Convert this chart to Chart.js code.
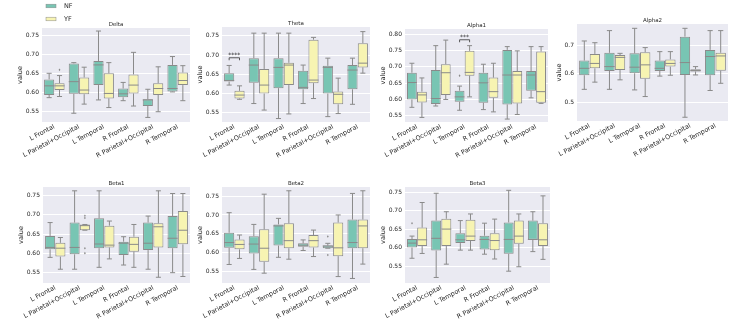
<!DOCTYPE html>
<html>
<head>
<meta charset="utf-8">
<title>Band power box plots</title>
<script src="https://cdn.jsdelivr.net/npm/chart.js@4.4.1/dist/chart.umd.min.js"></script>
<style>
  html, body { margin: 0; padding: 0; background: #fff; }
  body { position: relative; width: 733px; height: 327px; overflow: hidden; }
  canvas { position: absolute; }
</style>
</head>
<body>
<script>
// categories and groups
const regions = ['L Frontal', 'L Parietal+Occipital', 'L Temporal', 'R Frontal', 'R Parietal+Occipital', 'R Temporal'];
const groups = ['NF', 'YF'];

// tick labels
const ticks05 = [0.55, 0.60, 0.65, 0.70, 0.75];
const ticks05a = [0.55, 0.60, 0.65, 0.70, 0.75, 0.80];
const ticks10 = [0.5, 0.6, 0.7];

// each row: [lower whisker, Q1, median, Q3, upper whisker], one row per region
const deltaNF = [[0.587, 0.594, 0.618, 0.635, 0.651], [0.546, 0.597, 0.629, 0.677, 0.679], [0.581, 0.620, 0.673, 0.683, 0.762],
                 [0.579, 0.588, 0.597, 0.611, 0.627], [0.535, 0.565, 0.581, 0.583, 0.609], [0.602, 0.603, 0.611, 0.673, 0.695]];
const deltaYF = [[0.590, 0.607, 0.618, 0.625, 0.645], [0.570, 0.596, 0.607, 0.640, 0.667], [0.561, 0.585, 0.598, 0.651, 0.679],
                 [0.565, 0.598, 0.620, 0.648, 0.706], [0.550, 0.594, 0.611, 0.625, 0.668], [0.579, 0.620, 0.632, 0.653, 0.671]];
const thetaNF = [[0.622, 0.631, 0.634, 0.653, 0.673], [0.574, 0.628, 0.674, 0.692, 0.757], [0.535, 0.614, 0.668, 0.692, 0.757],
                 [0.574, 0.611, 0.616, 0.659, 0.674], [0.540, 0.600, 0.668, 0.672, 0.692], [0.572, 0.611, 0.661, 0.674, 0.692]];
const thetaYF = [[0.585, 0.587, 0.596, 0.607, 0.620], [0.557, 0.600, 0.622, 0.664, 0.757], [0.547, 0.622, 0.674, 0.680, 0.757],
                 [0.587, 0.627, 0.635, 0.740, 0.746], [0.548, 0.572, 0.598, 0.605, 0.640], [0.653, 0.668, 0.679, 0.731, 0.761]];
const alpha1NF = [[0.576, 0.600, 0.652, 0.682, 0.711], [0.580, 0.586, 0.603, 0.690, 0.765], [0.567, 0.593, 0.608, 0.627, 0.641],
                  [0.569, 0.590, 0.651, 0.682, 0.708], [0.540, 0.585, 0.675, 0.752, 0.762], [0.605, 0.627, 0.675, 0.687, 0.762]];
const alpha1YF = [[0.545, 0.591, 0.614, 0.624, 0.666], [0.600, 0.614, 0.682, 0.708, 0.782], [0.608, 0.673, 0.683, 0.749, 0.765],
                  [0.562, 0.605, 0.624, 0.667, 0.711], [0.554, 0.588, 0.675, 0.687, 0.749], [0.588, 0.590, 0.624, 0.747, 0.762]];
const alpha2NF = [[0.546, 0.595, 0.619, 0.646, 0.714], [0.546, 0.610, 0.625, 0.673, 0.750], [0.544, 0.602, 0.623, 0.671, 0.758],
                  [0.592, 0.610, 0.619, 0.646, 0.677], [0.449, 0.596, 0.639, 0.729, 0.758], [0.542, 0.595, 0.660, 0.683, 0.750]];
const alpha2YF = [[0.571, 0.619, 0.636, 0.669, 0.708], [0.579, 0.613, 0.657, 0.665, 0.671], [0.521, 0.583, 0.631, 0.675, 0.691],
                  [0.595, 0.625, 0.636, 0.650, 0.677], [0.596, 0.608, 0.611, 0.616, 0.625], [0.567, 0.611, 0.662, 0.673, 0.750]];
const beta1NF = [[0.589, 0.610, 0.615, 0.645, 0.680], [0.558, 0.597, 0.615, 0.680, 0.763], [0.563, 0.613, 0.624, 0.691, 0.763],
                 [0.569, 0.595, 0.626, 0.630, 0.643], [0.558, 0.608, 0.626, 0.680, 0.697], [0.549, 0.613, 0.639, 0.697, 0.756]];
const beta1YF = [[0.558, 0.591, 0.613, 0.627, 0.641], [0.660, 0.660, 0.672, 0.675, 0.675], [0.585, 0.615, 0.621, 0.672, 0.684],
                 [0.563, 0.604, 0.623, 0.643, 0.675], [0.537, 0.615, 0.669, 0.678, 0.763], [0.539, 0.623, 0.660, 0.710, 0.756]];
const beta2NF = [[0.569, 0.613, 0.627, 0.653, 0.706], [0.556, 0.598, 0.623, 0.644, 0.675], [0.588, 0.619, 0.671, 0.675, 0.691],
                 [0.606, 0.616, 0.620, 0.625, 0.634], [0.612, 0.612, 0.618, 0.619, 0.625], [0.532, 0.612, 0.627, 0.688, 0.757]];
const beta2YF = [[0.585, 0.609, 0.622, 0.635, 0.647], [0.546, 0.576, 0.612, 0.662, 0.755], [0.583, 0.612, 0.632, 0.678, 0.764],
                 [0.590, 0.614, 0.632, 0.647, 0.660], [0.537, 0.591, 0.613, 0.680, 0.700], [0.570, 0.612, 0.671, 0.688, 0.764]];
const beta3NF = [[0.571, 0.600, 0.612, 0.623, 0.631], [0.519, 0.592, 0.625, 0.673, 0.747], [0.593, 0.612, 0.621, 0.639, 0.673],
                 [0.582, 0.595, 0.622, 0.632, 0.666], [0.536, 0.583, 0.622, 0.668, 0.755], [0.589, 0.621, 0.622, 0.673, 0.697]];
const beta3YF = [[0.584, 0.604, 0.621, 0.654, 0.722], [0.555, 0.604, 0.650, 0.678, 0.697], [0.593, 0.618, 0.631, 0.675, 0.691],
                 [0.569, 0.593, 0.619, 0.639, 0.677], [0.548, 0.610, 0.631, 0.673, 0.691], [0.568, 0.604, 0.621, 0.666, 0.740]];

// outliers, one list per region
const noOutliers = [[], [], [], [], [], []];
const deltaYFOut = [[0.660], [], [], [], [], []];
const alpha1NFOut = [[], [], [0.673], [], [], []];
const beta1YFOut = [[], [0.698, 0.692, 0.613, 0.600], [], [], [], []];
const beta2NFOut = [[], [], [], [], [0.643, 0.594], []];
const beta3NFOut = [[0.666], [], [], [], [], []];

// significance marks: [panel, region index, bracket value, text]
const sigMarks = [['Theta', 0, 0.693, '****'], ['Alpha1', 2, 0.783, '***']];

// styling / layout
const FONT = 'DejaVu Sans';
const TEXT = '#262626';
const EDGE = '#8a8a8a';
const groupColors = ['#78c5b3', '#f7f4b2'];
const YW = 40, PT = 28, PR = 4, XH = 40;

const panels = [
  { title: 'Delta',  stats: [deltaNF, deltaYF],   out: [noOutliers, deltaYFOut], yMin: 0.523, yMax: 0.770, ticks: ticks05,  digits: 2, area: [42, 28, 190, 122], legend: true },
  { title: 'Theta',  stats: [thetaNF, thetaYF],   out: [noOutliers, noOutliers], yMin: 0.526, yMax: 0.773, ticks: ticks05,  digits: 2, area: [222, 27, 370, 122] },
  { title: 'Alpha1', stats: [alpha1NF, alpha1YF], out: [alpha1NFOut, noOutliers], yMin: 0.531, yMax: 0.816, ticks: ticks05a, digits: 2, area: [405, 29, 548, 122] },
  { title: 'Alpha2', stats: [alpha2NF, alpha2YF], out: [noOutliers, noOutliers], yMin: 0.436, yMax: 0.773, ticks: ticks10,  digits: 1, area: [577, 24, 728, 121] },
  { title: 'Beta1',  stats: [beta1NF, beta1YF],   out: [noOutliers, beta1YFOut], yMin: 0.522, yMax: 0.773, ticks: ticks05,  digits: 2, area: [43, 187, 190, 283] },
  { title: 'Beta2',  stats: [beta2NF, beta2YF],   out: [beta2NFOut, noOutliers], yMin: 0.520, yMax: 0.774, ticks: ticks05,  digits: 2, area: [222, 187, 370, 283] },
  { title: 'Beta3',  stats: [beta3NF, beta3YF],   out: [beta3NFOut, noOutliers], yMin: 0.504, yMax: 0.764, ticks: ticks05,  digits: 2, area: [405, 187, 550, 283] }
];

function line(ctx, x1, y1, x2, y2) {
  ctx.beginPath();
  ctx.moveTo(x1, y1);
  ctx.lineTo(x2, y2);
  ctx.stroke();
}

// grey plot background
const backdrop = {
  id: 'backdrop',
  beforeDraw(chart) {
    const { ctx, chartArea: a } = chart;
    ctx.save();
    ctx.fillStyle = '#eaeaf2';
    ctx.fillRect(a.left, a.top, a.right - a.left, a.bottom - a.top);
    ctx.restore();
  }
};

// whiskers, caps, medians and fliers on top of the floating bars
const whiskers = {
  id: 'whiskers',
  afterDatasetsDraw(chart) {
    const { ctx } = chart;
    const y = chart.scales.y;
    ctx.save();
    ctx.strokeStyle = EDGE;
    ctx.fillStyle = EDGE;
    ctx.lineWidth = 1;
    chart.data.datasets.forEach((ds, i) => {
      chart.getDatasetMeta(i).data.forEach((bar, j) => {
        const [lo, q1, med, q3, hi] = ds.stats[j];
        const x = bar.x, half = bar.width / 2;
        const pLo = y.getPixelForValue(lo), pQ1 = y.getPixelForValue(q1);
        const pQ3 = y.getPixelForValue(q3), pHi = y.getPixelForValue(hi);
        const pMed = y.getPixelForValue(med);
        if (hi > q3) { line(ctx, x, pQ3, x, pHi); }
        if (lo < q1) { line(ctx, x, pQ1, x, pLo); }
        line(ctx, x - half / 2, pHi, x + half / 2, pHi);
        line(ctx, x - half / 2, pLo, x + half / 2, pLo);
        line(ctx, x - half, pMed, x + half, pMed);
        ds.outliers[j].forEach(v => {
          const py = y.getPixelForValue(v);
          ctx.beginPath();
          ctx.moveTo(x, py - 1.3);
          ctx.lineTo(x + 0.9, py);
          ctx.lineTo(x, py + 1.3);
          ctx.lineTo(x - 0.9, py);
          ctx.closePath();
          ctx.fill();
        });
      });
    });
    ctx.restore();
  }
};

// titles, y label, significance brackets, legend
const labels = {
  id: 'labels',
  afterDraw(chart, args, opts) {
    const { ctx, chartArea: a } = chart;
    const p = opts.panel;
    ctx.save();
    ctx.fillStyle = TEXT;
    ctx.textAlign = 'center';
    ctx.textBaseline = 'alphabetic';
    ctx.font = `5.5px "${FONT}"`;
    ctx.fillText(p.title, (a.left + a.right) / 2, a.top - 2.5);

    ctx.font = `6px "${FONT}"`;
    const widest = Math.max(...p.ticks.map(v => ctx.measureText(v.toFixed(p.digits)).width));
    ctx.save();
    ctx.translate(a.left - 3 - widest - 5, (a.top + a.bottom) / 2);
    ctx.rotate(-Math.PI / 2);
    ctx.textBaseline = 'middle';
    ctx.font = `6.5px "${FONT}"`;
    ctx.fillText('value', 0, 0);
    ctx.restore();

    sigMarks.filter(m => m[0] === p.title).forEach(([, idx, val, txt]) => {
      const x1 = chart.getDatasetMeta(0).data[idx].x;
      const x2 = chart.getDatasetMeta(1).data[idx].x;
      const py = chart.scales.y.getPixelForValue(val);
      ctx.strokeStyle = '#333';
      ctx.lineWidth = 0.8;
      ctx.beginPath();
      ctx.moveTo(x1, py + 2.5);
      ctx.lineTo(x1, py);
      ctx.lineTo(x2, py);
      ctx.lineTo(x2, py + 2.5);
      ctx.stroke();
      ctx.font = `6px "${FONT}"`;
      ctx.fillText(txt, (x1 + x2) / 2, py - 1);
    });

    if (p.legend) {
      ctx.textAlign = 'left';
      ctx.textBaseline = 'middle';
      ctx.font = `6.5px "${FONT}"`;
      chart.data.datasets.forEach((ds, i) => {
        const cy = a.top - 22 + i * 13;
        ctx.fillStyle = ds.backgroundColor;
        ctx.fillRect(a.left + 4, cy - 1.8, 10, 3.6);
        ctx.strokeStyle = EDGE;
        ctx.lineWidth = 0.5;
        ctx.strokeRect(a.left + 4, cy - 1.8, 10, 3.6);
        ctx.fillStyle = TEXT;
        ctx.fillText(ds.label, a.left + 22, cy);
      });
    }
    ctx.restore();
  }
};

function makePanel(p) {
  const [x0, y0, x1, y1] = p.area;
  const W = YW + (x1 - x0) + PR;
  const H = PT + (y1 - y0) + XH;
  const canvas = document.createElement('canvas');
  canvas.width = W;
  canvas.height = H;
  canvas.style.left = (x0 - YW) + 'px';
  canvas.style.top = (y0 - PT) + 'px';
  canvas.style.width = W + 'px';
  canvas.style.height = H + 'px';
  document.body.appendChild(canvas);

  return new Chart(canvas, {
    type: 'bar',
    data: {
      labels: regions,
      datasets: groups.map((g, k) => ({
        label: g,
        data: p.stats[k].map(s => [s[1], s[3]]),
        stats: p.stats[k],
        outliers: p.out[k],
        backgroundColor: groupColors[k],
        borderColor: EDGE,
        borderWidth: 1,
        borderSkipped: false,
        barPercentage: 0.98,
        categoryPercentage: 0.84
      }))
    },
    options: {
      responsive: false,
      animation: false,
      events: [],
      layout: { padding: { top: PT, right: PR, left: 0, bottom: 0 } },
      plugins: {
        legend: { display: false },
        tooltip: { enabled: false },
        labels: { panel: p }
      },
      scales: {
        x: {
          grid: { display: false, drawTicks: false },
          border: { display: false },
          ticks: {
            autoSkip: false, minRotation: 28, maxRotation: 28, padding: 1,
            color: TEXT, font: { family: FONT, size: 6.4 }
          },
          afterFit: s => { s.height = XH; }
        },
        y: {
          min: p.yMin,
          max: p.yMax,
          grid: { color: '#ffffff', lineWidth: 1, drawTicks: false },
          border: { display: false },
          ticks: {
            padding: 3, color: TEXT, font: { family: FONT, size: 6 },
            callback: v => v.toFixed(p.digits)
          },
          afterBuildTicks: s => { s.ticks = p.ticks.map(v => ({ value: v })); },
          afterFit: s => { s.width = YW; }
        }
      }
    },
    plugins: [backdrop, whiskers, labels]
  });
}

panels.forEach(makePanel);
</script>
</body>
</html>
